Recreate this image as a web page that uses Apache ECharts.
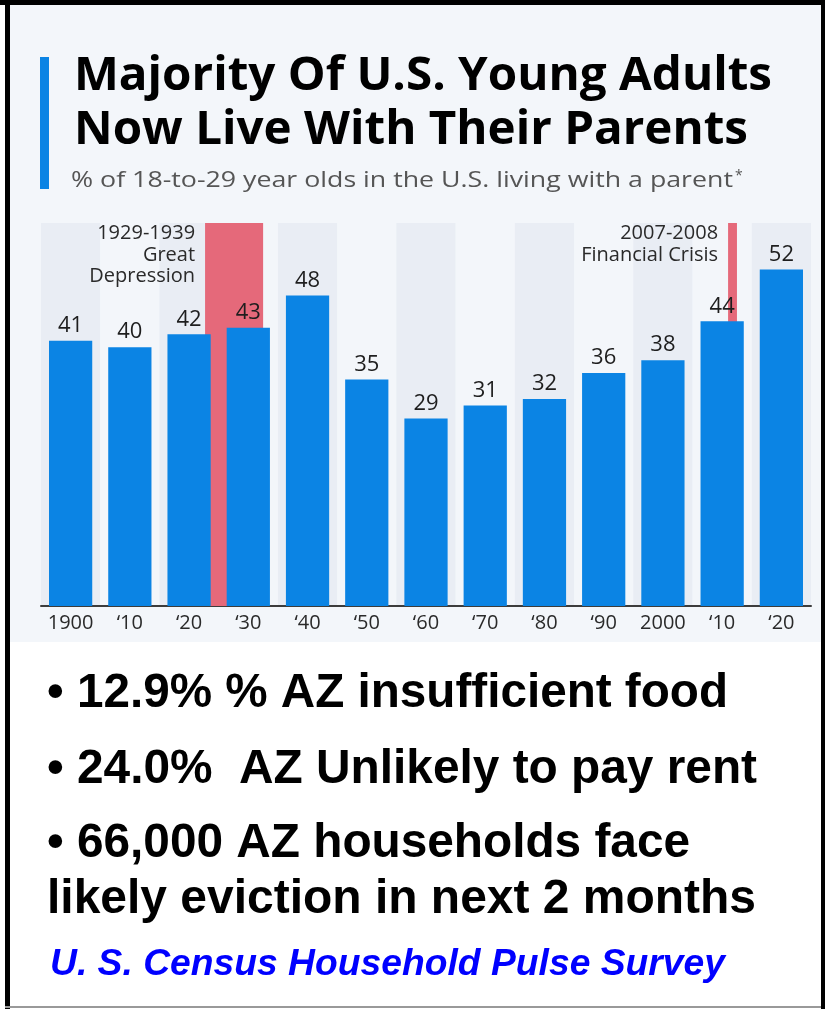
<!DOCTYPE html>
<html><head><meta charset="utf-8">
<script src="https://cdn.jsdelivr.net/npm/echarts@6/dist/echarts.min.js"></script>
<style>html,body{margin:0;padding:0;background:#fff}#c{width:825px;height:1009px}</style>
</head><body><div id="c"></div>
<script>
// ---- data ----
const categories = ['1900', '\u201810', '\u201820', '\u201830', '\u201840', '\u201850', '\u201860', '\u201870', '\u201880', '\u201890', '2000', '\u201810', '\u201820'];
const values = [41, 40, 42, 43, 48, 35, 29, 31, 32, 36, 38, 44, 52];
const eventNames = ['1929-1939\nGreat\nDepression', '2007-2008\nFinancial Crisis'];
const eventSpans = [[2.27, 3.25], [11.1, 11.25]]; // on the category-index scale
const titleLines = ['Majority Of U.S. Young Adults', 'Now Live With Their Parents'];
const subtitle = '% of 18-to-29 year olds in the U.S. living with a parent';
const bullets = ['\u2022 12.9% % AZ insufficient food', '\u2022 24.0%  AZ Unlikely to pay rent', '\u2022 66,000 AZ households face', 'likely eviction in next 2 months'];
const source = 'U. S. Census Household Pulse Survey';

// ---- helpers ----
const mctx = document.createElement('canvas').getContext('2d');
function fit(text, font, w) { mctx.font = font; return w / mctx.measureText(text).width; }
function txt(text, x, y, font, color, w, sy) {
  return { type: 'text', x: x, y: y, scaleX: w ? fit(text, font, w) : 1, scaleY: sy || 1, z: 50,
    style: { text: text, font: font, fill: color, textAlign: 'left', textVerticalAlign: 'middle' } };
}

const TF = 'bold 47px "Open Sans"';
const SF = '22px "Open Sans"';
const BF = 'bold 48px "Liberation Sans", Arial, sans-serif';
const SRC = 'italic bold 37px "Liberation Sans", Arial, sans-serif';

const graphics = [
  // backgrounds
  { type: 'rect', z: -10, shape: { x: 10, y: 5, width: 811, height: 637 }, style: { fill: '#f3f6fa' } },
  // frame
  { type: 'rect', z: 100, shape: { x: 0, y: 0, width: 825, height: 5 }, style: { fill: '#000' } },
  { type: 'rect', z: 100, shape: { x: 5, y: 0, width: 5, height: 1009 }, style: { fill: '#000' } },
  { type: 'rect', z: 100, shape: { x: 821, y: 0, width: 4, height: 1009 }, style: { fill: '#000' } },
  { type: 'rect', z: 100, shape: { x: 5, y: 1006, width: 816, height: 2 }, style: { fill: '#999' } },
  // title accent bar
  { type: 'rect', z: 50, shape: { x: 40, y: 57, width: 9, height: 132 }, style: { fill: '#0b84e4' } },
  txt(titleLines[0], 74, 77, TF, '#000', 698),
  txt(titleLines[1], 74, 131, TF, '#000', 674),
  txt(subtitle, 71, 181, SF, '#555', 662),
  { type: 'text', x: 735, y: 176, z: 50, style: { text: '*', font: '14px "Open Sans"', fill: '#555', textVerticalAlign: 'middle' } },
  txt(bullets[0], 47, 694, BF, '#000', 681),
  txt(bullets[1], 47, 770, BF, '#000', 710),
  txt(bullets[2], 47, 844, BF, '#000', 643),
  txt(bullets[3], 47, 900, BF, '#000', 709),
  txt(source, 50, 965, SRC, '#0000ff', 675)
];

const chart = echarts.init(document.getElementById('c'), null, { renderer: 'canvas' });
chart.setOption({
  animation: false,
  backgroundColor: '#ffffff',
  graphic: { elements: graphics },
  grid: { left: 41, right: 14, top: 223, bottom: 403, containLabel: false },
  xAxis: [
    { type: 'category', data: categories,
      axisLine: { lineStyle: { color: '#3c3c3c', width: 2 } },
      axisTick: { show: false },
      axisLabel: { interval: 0, color: '#2a2a2a', fontFamily: 'Open Sans', fontSize: 20, margin: 7 },
      splitLine: { show: false },
      splitArea: { show: true, interval: 0, areaStyle: { color: ['#e9edf4', '#f3f6fa'] } } },
    { type: 'value', min: -0.5, max: 12.5, show: false }
  ],
  yAxis: { type: 'value', min: 0, max: 59.2, show: false },
  series: [
    { type: 'bar', data: values, barCategoryGap: '27%', z: 3,
      itemStyle: { color: '#0b84e4' },
      label: { show: true, position: 'top', distance: 4, color: '#1e1e1e', fontFamily: 'Open Sans', fontSize: 22 } },
    { type: 'line', xAxisIndex: 1, data: [], z: 1,
      markArea: { silent: true, itemStyle: { color: '#e5697a' },
        label: { show: true, position: [-10, 0], align: 'right', verticalAlign: 'top', color: '#2a2a2a',
          fontFamily: 'Open Sans', fontSize: 20, lineHeight: 21.5 },
        data: eventSpans.map((s, i) => [{ xAxis: s[0], name: eventNames[i] }, { xAxis: s[1] }]) } }
  ]
});
</script></body></html>
